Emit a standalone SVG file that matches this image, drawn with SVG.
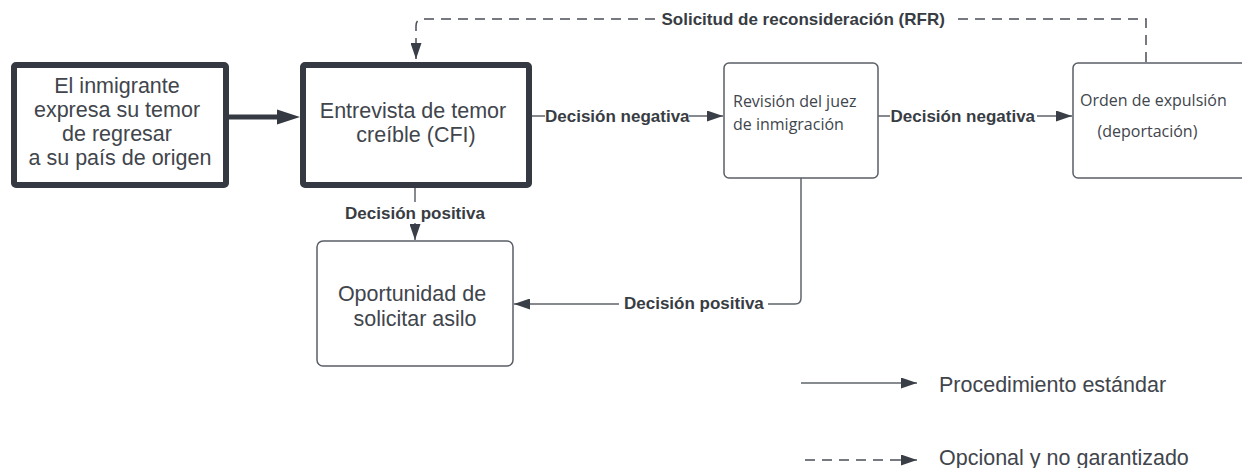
<svg xmlns="http://www.w3.org/2000/svg" width="1242" height="468" viewBox="0 0 1242 468">
<defs>
<marker id="arr" viewBox="0 0 16 11" refX="16" refY="5.5" markerWidth="16" markerHeight="11" markerUnits="userSpaceOnUse" orient="auto">
<path d="M0,0 L16,5.5 L0,11 Z" fill="#3a3f47"/>
</marker>
<style>
.thick{fill:#fff;stroke:#353a42;stroke-width:6}
.thin{fill:#fff;stroke:#5a5e65;stroke-width:1.5}
.big{font-family:"Liberation Sans",Arial,sans-serif;font-size:21.5px;fill:#41454c}
.os{font-family:"Open Sans","DejaVu Sans",sans-serif;font-size:16px;fill:#41454c}
.lbl{font-family:"Liberation Sans",Arial,sans-serif;font-size:17px;font-weight:bold;fill:#383c43}
.con{fill:none;stroke:#5f636a;stroke-width:1.5}
.dash{fill:none;stroke:#4a4e55;stroke-width:1.5;stroke-dasharray:10 7}
</style>
</defs>
<rect width="1242" height="468" fill="#fff"/>

<g id="connectors">
<path d="M229 117 H279" stroke="#353a42" stroke-width="5" fill="none"/>
<path d="M277 109.5 L300 117 L277 124.5 Z" fill="#353a42"/>
<path class="con" d="M532 116 H545 M689 116 H723" marker-end="url(#arr)"/>
<path class="con" d="M878 116 H890 M1037 116 H1072" marker-end="url(#arr)"/>
<path class="con" d="M415 188 V202 M415 223 V240" marker-end="url(#arr)"/>
<path class="con" d="M801 178 V298 Q801 304 795 304 H768 M619 304 H514" marker-end="url(#arr)"/>
<path class="dash" d="M1146 62 V19 H953"/>
<path class="dash" d="M655 19 H423 Q416 19 416 26 V59" marker-end="url(#arr)"/>
<text class="lbl" x="545" y="122">Decisión negativa</text>
<text class="lbl" x="890.5" y="122">Decisión negativa</text>
<text class="lbl" x="415" y="219" text-anchor="middle">Decisión positiva</text>
<text class="lbl" x="624" y="309">Decisión positiva</text>
<text class="lbl" x="661.5" y="25">Solicitud de reconsideración (RFR)</text>
</g>

<g id="n1">
<rect class="thick" x="14" y="65" width="212" height="120" rx="2"/>
<text class="big" text-anchor="middle">
<tspan x="120" y="92.5">El inmigrante</tspan>
<tspan x="120" y="116.5">expresa su temor</tspan>
<tspan x="120" y="140.5">de regresar</tspan>
<tspan x="120" y="164.5">a su país de origen</tspan>
</text>
</g>

<g id="n2">
<rect class="thick" x="303" y="65" width="226" height="120" rx="2"/>
<text class="big" text-anchor="middle">
<tspan x="416" y="118">Entrevista de temor</tspan>
<tspan x="416" y="142">creíble (CFI)</tspan>
</text>
</g>

<g id="n3">
<rect class="thin" x="724" y="63" width="154" height="115" rx="5"/>
<text class="os">
<tspan x="733" y="107">Revisión del juez</tspan>
<tspan x="733" y="130">de inmigración</tspan>
</text>
</g>

<g id="n4">
<rect class="thin" x="1073" y="63" width="200" height="115" rx="5"/>
<text class="os">
<tspan x="1080" y="106">Orden de expulsión</tspan>
<tspan x="1097.5" y="137">(deportación)</tspan>
</text>
</g>

<g id="n5">
<rect class="thin" x="317" y="241" width="196" height="125" rx="6"/>
<text class="big" text-anchor="middle">
<tspan x="415" y="301">Oportunidad de</tspan>
<tspan x="415" y="325.5">solicitar asilo</tspan>
</text>
</g>

<g id="legend">
<path class="con" d="M801 383 H917" marker-end="url(#arr)"/>
<text class="big" x="939" y="391.5">Procedimiento estándar</text>
<path class="dash" d="M805 460 H900"/>
<path class="con" d="M900 460 H917" marker-end="url(#arr)"/>
<text class="big" x="939" y="464.5">Opcional y no garantizado</text>
</g>
</svg>
